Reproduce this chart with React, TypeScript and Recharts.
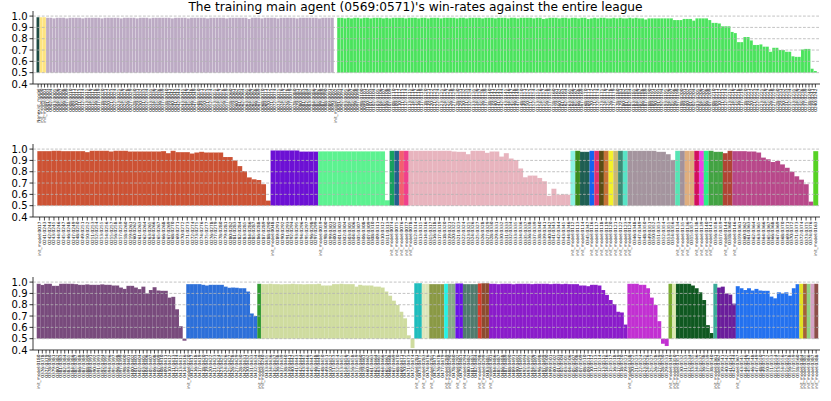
import React from 'react';
import { BarChart, Bar, XAxis, YAxis, Cell, ReferenceLine } from 'recharts';

const TITLE = "The training main agent (0569:0571)'s win-rates against the entire league";
const Y_TICKS = [0.4, 0.5, 0.6, 0.7, 0.8, 0.9, 1.0];
const GRID_LEVELS = [0.5, 0.6, 0.7, 0.8, 0.9, 1.0];
const BAR_BASE = 0.5;

// ---- row 1 ----
const ROW1_VALUES = [
  0.99, 0.99, 0.99,
  0.985, 0.985, 0.98, 0.985, 0.985, 0.985, 0.98, 0.985, 0.985, 0.985,
  0.985, 0.98, 0.985, 0.985, 0.985, 0.985, 0.985, 0.98, 0.985, 0.985,
  0.985, 0.985, 0.985, 0.98, 0.985, 0.985, 0.985, 0.985, 0.98, 0.985,
  0.985, 0.985, 0.98, 0.985, 0.985, 0.985, 0.985, 0.985, 0.985, 0.98,
  0.985, 0.985, 0.985, 0.985, 0.98, 0.985, 0.985, 0.985, 0.985, 0.985,
  0.98, 0.985, 0.985, 0.985, 0.985, 0.985, 0.98, 0.985, 0.985, 0.985,
  0.985, 0.985, 0.985, 0.975, 0.985, 0.985, 0.985, 0.98, 0.985, 0.985,
  0.985, 0.985, 0.98, 0.985, 0.985, 0.985, 0.985, 0.985, 0.98, 0.985,
  0.985, 0.985, 0.985, 0.985, 0.985, 0.98, 0.985, 0.985, 0.985, 0.985,
  0.5,
  0.985, 0.985, 0.98, 0.985, 0.98, 0.985, 0.985, 0.98, 0.985, 0.985,
  0.98, 0.985, 0.985, 0.985, 0.98, 0.985, 0.98, 0.985, 0.985, 0.985,
  0.985, 0.98, 0.985, 0.985, 0.985, 0.98, 0.985, 0.985, 0.98, 0.985,
  0.985, 0.985, 0.98, 0.985, 0.985, 0.985, 0.985, 0.98, 0.985, 0.985,
  0.98, 0.985, 0.985, 0.985, 0.985, 0.98, 0.985, 0.985, 0.985, 0.98,
  0.985, 0.985, 0.985, 0.98, 0.985, 0.985, 0.98, 0.985, 0.985, 0.985,
  0.985, 0.98, 0.985, 0.985, 0.975, 0.98, 0.985, 0.985, 0.985, 0.98,
  0.985, 0.985, 0.98, 0.985, 0.985, 0.98, 0.985, 0.985, 0.975, 0.98,
  0.985, 0.98, 0.985, 0.985, 0.98, 0.98, 0.985, 0.98, 0.985, 0.98,
  0.98, 0.985, 0.98, 0.985, 0.98, 0.98,
  0.97, 0.98, 0.98, 0.98, 0.98, 0.98, 0.98, 0.98, 0.98,
  0.965, 0.965, 0.965, 0.975, 0.975, 0.975, 0.96,
  0.98, 0.98, 0.98, 0.98, 0.965, 0.94, 0.94, 0.935,
  0.91, 0.91, 0.91, 0.86, 0.85, 0.77, 0.77, 0.815, 0.815, 0.785,
  0.745, 0.745, 0.75, 0.73, 0.73, 0.685, 0.72, 0.72, 0.7, 0.7,
  0.685, 0.685, 0.645, 0.64, 0.64, 0.705, 0.71, 0.71, 0.535, 0.515,
];
const ROW1_GROUP_SIZES = [1, 2, 90, 1, 150];
const ROW1_GROUP_COLORS = ['#1d4b45', '#fde47e', '#bcaac4', '#4ae35c', '#4ae35c'];

// ---- row 2 ----
const ROW2_VALUES = [
  0.982, 0.982, 0.982, 0.985, 0.985, 0.982, 0.982, 0.982, 0.982, 0.982,
  0.973, 0.985, 0.985, 0.985, 0.985, 0.979, 0.985, 0.985, 0.985, 0.979,
  0.979, 0.979, 0.979, 0.979, 0.979, 0.979, 0.982, 0.964, 0.985, 0.973,
  0.973, 0.973, 0.961, 0.97, 0.976, 0.97, 0.97, 0.97, 0.97, 0.93,
  0.93, 0.9, 0.85, 0.805, 0.75, 0.733, 0.727, 0.69, 0.545,
  0.988, 0.988, 0.988, 0.988, 0.988, 0.988, 0.978, 0.978, 0.978, 0.978,
  0.98, 0.98, 0.98, 0.98, 0.98, 0.98, 0.98, 0.98, 0.98, 0.98, 0.98, 0.98, 0.98, 0.98, 0.548,
  0.985, 0.985, 0.985, 0.985,
  0.985, 0.985, 0.985, 0.985, 0.985, 0.985, 0.985, 0.985, 0.985, 0.979,
  0.976, 0.976, 0.955, 0.985, 0.985, 0.985, 0.967, 0.979, 0.979, 0.934,
  0.964, 0.916, 0.904, 0.829, 0.751, 0.766, 0.766, 0.745, 0.716, 0.587,
  0.65, 0.596, 0.6, 0.596,
  0.985, 0.985, 0.976, 0.976, 0.985, 0.985, 0.985, 0.985, 0.985, 0.985, 0.985, 0.985,
  0.985, 0.985, 0.985, 0.985, 0.985, 0.985, 0.976, 0.976, 0.955, 0.904,
  0.985, 0.985, 0.985, 0.985, 0.985, 0.985, 0.985, 0.985, 0.976, 0.976, 0.964, 0.985,
  0.982, 0.982, 0.982, 0.979, 0.979, 0.97, 0.925, 0.91, 0.886, 0.895,
  0.865, 0.835, 0.8, 0.76, 0.73, 0.69, 0.536,
  0.982,
];
const ROW2_GROUP_SIZES = [
  49, 10, 15, 1, 1, 1, 1, 34, 1, 1, 2, 1, 1, 1, 1, 1, 1, 1, 1, 10, 1, 1, 2, 1, 1, 1, 3, 2, 17, 1,
];
const ROW2_GROUP_COLORS = [
  '#cc5234', '#6c10d4', '#5cf290', '#17a05e', '#245f8c', '#f26070', '#f0408c', '#e8b4be',
  '#8cf2e2', '#3a8a1c', '#1e5e52', '#1463f0', '#e0306c', '#5a4e14', '#c67238', '#f4f22a',
  '#c9b874', '#3d8b76', '#58e4c6', '#a4949e', '#56e4b4', '#a2929c', '#dfae7e', '#d20e5e',
  '#ee42e2', '#2aef86', '#42a242', '#b04434', '#b8488a', '#56d224',
];

// ---- row 3 ----
const ROW3_VALUES = [
  0.985, 0.975, 0.985, 0.985, 0.967, 0.967, 0.985, 0.985, 0.985, 0.985,
  0.982, 0.976, 0.976, 0.98, 0.976, 0.976, 0.976, 0.98, 0.976, 0.976,
  0.97, 0.97, 0.952, 0.94, 0.967, 0.967, 0.952, 0.938, 0.96, 0.9,
  0.93, 0.955, 0.926, 0.923, 0.923, 0.863, 0.87, 0.76, 0.61, 0.482,
  0.982, 0.982, 0.982, 0.982, 0.976, 0.97, 0.976, 0.976, 0.976, 0.976,
  0.96, 0.95, 0.952, 0.95, 0.946, 0.946, 0.917, 0.723, 0.7,
  0.985,
  0.982, 0.982, 0.985, 0.982, 0.982, 0.98, 0.982, 0.982, 0.985, 0.982,
  0.982, 0.98, 0.982, 0.982, 0.982, 0.985, 0.97, 0.97, 0.97, 0.982,
  0.982, 0.985, 0.982, 0.982, 0.982, 0.96, 0.976, 0.97, 0.97, 0.97,
  0.96, 0.96, 0.952, 0.917, 0.88, 0.836, 0.798, 0.738, 0.68, 0.53,
  0.417,
  0.99, 0.99, 0.985, 0.985, 0.982, 0.982, 0.982, 0.982, 0.985, 0.985, 0.985,
  0.988, 0.988, 0.982, 0.982, 0.982, 0.982, 0.988, 0.99, 0.99,
  0.985, 0.985, 0.982, 0.985, 0.985, 0.985, 0.982, 0.985, 0.985, 0.985,
  0.985, 0.982, 0.985, 0.985, 0.985, 0.985, 0.982, 0.985, 0.985, 0.982,
  0.985, 0.982, 0.982, 0.982, 0.97, 0.97, 0.964, 0.976, 0.976, 0.97,
  0.93, 0.887, 0.842, 0.806, 0.738, 0.732, 0.625,
  0.985, 0.985, 0.985, 0.976, 0.976, 0.946, 0.863, 0.798, 0.655, 0.455, 0.435,
  0.985, 0.985,
  0.985, 0.985, 0.985, 0.985, 0.97, 0.946, 0.91, 0.842, 0.62, 0.55,
  0.985,
  0.952, 0.96, 0.9, 0.89, 0.81,
  0.964, 0.946, 0.93, 0.946, 0.926, 0.94, 0.926, 0.923, 0.923, 0.872,
  0.857, 0.91, 0.9, 0.91, 0.88, 0.946, 0.982,
  0.985, 0.985, 0.985, 0.985, 0.985,
];
const ROW3_GROUP_SIZES = [
  40, 19, 1, 41, 2, 2, 4, 1, 2, 2, 4, 1, 2, 37, 11, 1, 1, 10, 1, 5, 17, 1, 1, 1, 1, 1,
];
const ROW3_GROUP_COLORS = [
  '#784a7c', '#2c6fd9', '#2e9a30', '#cfdc9f', '#1fbdbd', '#dde6bb', '#8a9944', '#24f2e6',
  '#86ab88', '#6a12e8', '#4f7a6d', '#d63c2c', '#8c4a2f', '#8a1bca', '#c22fd2', '#7aab30',
  '#dde9b2', '#0f5820', '#3aaa98', '#6a1d9b', '#2371ef', '#e2e222', '#a36238', '#8fd27f',
  '#d6a2c6', '#8b4f48',
];

// init checkpoints that start each group (first tick label of the group)
const ROW2_INIT_IDS = [
  17, 48, 59, 74, 75, 76, 77, 78, 112, 113, 114, 116, 117, 118, 119, 120, 121, 122, 123,
  124, 134, 135, 136, 138, 139, 140, 141, 144, 146, 163,
];
const ROW3_INIT_IDS = [
  180, 220, 239, 240, 281, 283, 285, 289, 290, 292, 294, 298, 299, 301, 338, 349, 350, 351,
  361, 362, 367, 384, 385, 386, 387, 388,
];

const pad4 = (n: number) => String(n).padStart(4, '0');
const cp = (id: number) => `${pad4(id)}:${pad4(id + 2)}`;

function groupLabels(sizes: number[], initIds: number[], firstCp: number): string[] {
  const out: string[] = [];
  let id = firstCp;
  sizes.forEach((n, g) => {
    out.push(`init_model:${pad4(initIds[g])}`);
    for (let j = 1; j < n; j++) out.push(cp(id++));
  });
  return out;
}

const ROW1_LABELS = [
  'Nonexist_model',
  'init_model:0000',
  'init_model:0001',
  ...ROW1_VALUES.slice(3, 93).map((_, i) => cp(1 + i)),
  'init_model:0002',
  ...ROW1_VALUES.slice(94).map((_, i) => cp(91 + i)),
];
const ROW2_LABELS = groupLabels(ROW2_GROUP_SIZES, ROW2_INIT_IDS, 241);
const ROW3_LABELS = groupLabels(ROW3_GROUP_SIZES, ROW3_INIT_IDS, 376);

const FONT = 'DejaVu Sans, sans-serif';
const FRAME = '#3a3a3a';

function RotatedTick(props: any) {
  const { x, y, payload } = props;
  return (
    <text
      x={x}
      y={y}
      dy={1.5}
      transform={`rotate(-90, ${x}, ${y})`}
      textAnchor="end"
      fontSize={4.3}
      fontFamily={FONT}
      fill="#111"
    >
      {payload.value}
    </text>
  );
}

function expandColors(sizes: number[], colors: string[]) {
  const out: string[] = [];
  sizes.forEach((n, i) => {
    for (let j = 0; j < n; j++) out.push(colors[i]);
  });
  return out;
}

interface LeagueRowProps {
  values: number[];
  sizes: number[];
  colors: string[];
  labels: string[];
  top: number;
  height: number;
  padLeft: number;
  padRight: number;
}

function LeagueRow({ values, sizes, colors, labels, top, height, padLeft, padRight }: LeagueRowProps) {
  const barColors = expandColors(sizes, colors);
  const data = values.map((v, i) => ({ name: labels[i], span: [BAR_BASE, v], color: barColors[i] }));
  const pad = { left: padLeft, right: padRight };

  return (
    <div style={{ position: 'absolute', left: 0, top }}>
      <BarChart
        width={831}
        height={height}
        data={data}
        margin={{ top: 11, right: 11, bottom: 0, left: 0 }}
        barCategoryGap={0}
        barGap={0}
      >
        <XAxis
          dataKey="name"
          interval={0}
          height={height - 84}
          tickSize={3.5}
          tickMargin={1}
          tick={<RotatedTick />}
          tickLine={{ stroke: '#000', strokeWidth: 0.7 }}
          axisLine={{ stroke: FRAME, strokeWidth: 1 }}
          padding={pad}
        />
        <XAxis
          xAxisId="top"
          dataKey="name"
          orientation="top"
          height={0}
          tick={false}
          tickLine={false}
          axisLine={{ stroke: FRAME, strokeWidth: 1 }}
          padding={pad}
        />
        <YAxis
          type="number"
          domain={[0.4, 1.045]}
          ticks={Y_TICKS}
          interval={0}
          width={33}
          tickSize={3.5}
          tickMargin={2}
          tickFormatter={(v: number) => v.toFixed(1)}
          tick={{ fontSize: 10, fill: '#000', fontFamily: FONT }}
          tickLine={{ stroke: '#000', strokeWidth: 0.8 }}
          axisLine={{ stroke: FRAME, strokeWidth: 1 }}
          allowDataOverflow
        />
        <YAxis
          yAxisId="right"
          orientation="right"
          type="number"
          domain={[0, 1]}
          width={0}
          tick={false}
          tickLine={false}
          axisLine={{ stroke: FRAME, strokeWidth: 1 }}
        />
        <Bar dataKey="span" isAnimationActive={false} stroke="#ffffff" strokeOpacity={0.18} strokeWidth={0.4}>
          {data.map((d, i) => (
            <Cell key={i} fill={d.color} />
          ))}
        </Bar>
        {GRID_LEVELS.map((v) => (
          <ReferenceLine key={v} y={v} stroke="#b4b4b4" strokeDasharray="2.8 1.6" strokeWidth={0.8} />
        ))}
      </BarChart>
    </div>
  );
}

export default function App() {
  return (
    <div style={{ position: 'absolute', left: 0, top: 0, width: 831, height: 401, background: '#fff', overflow: 'hidden' }}>
      <LeagueRow
        values={ROW1_VALUES}
        sizes={ROW1_GROUP_SIZES}
        colors={ROW1_GROUP_COLORS}
        labels={ROW1_LABELS}
        top={0}
        height={133}
        padLeft={3.5}
        padRight={3}
      />
      <LeagueRow
        values={ROW2_VALUES}
        sizes={ROW2_GROUP_SIZES}
        colors={ROW2_GROUP_COLORS}
        labels={ROW2_LABELS}
        top={133}
        height={133}
        padLeft={4.3}
        padRight={2}
      />
      <LeagueRow
        values={ROW3_VALUES}
        sizes={ROW3_GROUP_SIZES}
        colors={ROW3_GROUP_COLORS}
        labels={ROW3_LABELS}
        top={266}
        height={135}
        padLeft={3.7}
        padRight={2}
      />
      <svg width={831} height={16} style={{ position: 'absolute', left: 0, top: 0 }}>
        <text x={415.5} y={11.2} textAnchor="middle" fontSize={12.2} fontFamily={FONT} fill="#000">
          {TITLE}
        </text>
      </svg>
    </div>
  );
}
